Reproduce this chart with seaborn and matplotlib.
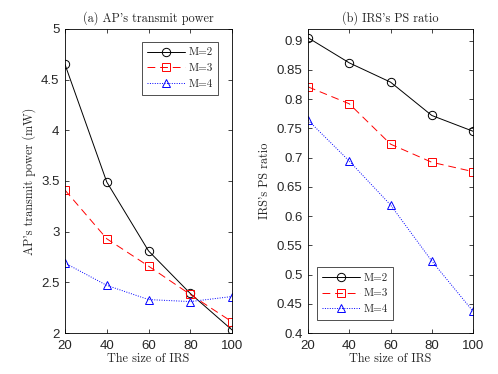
import numpy as np
import pandas as pd
import matplotlib as mpl
mpl.use("Agg")
import matplotlib.pyplot as plt
import seaborn as sns

# Data
# --------------
irs_size = [20, 40, 60, 80, 100]
labels = ["M=2", "M=3", "M=4"]

power_m2 = [4.65, 3.49, 2.81, 2.39, 2.03]
power_m3 = [3.41, 2.93, 2.66, 2.38, 2.11]
power_m4 = [2.69, 2.47, 2.33, 2.31, 2.36]

ps_m2 = [0.905, 0.862, 0.829, 0.772, 0.745]
ps_m3 = [0.821, 0.792, 0.723, 0.692, 0.676]
ps_m4 = [0.764, 0.694, 0.619, 0.523, 0.437]

# Set-up
# --------------
sns.set_theme(style="ticks")
plt.rcParams["font.family"] = ["Liberation Sans", "DejaVu Sans"]
plt.rcParams["xtick.direction"] = "in"
plt.rcParams["ytick.direction"] = "in"
plt.rcParams["axes.linewidth"] = 0.6
plt.rcParams["xtick.major.width"] = 0.6
plt.rcParams["ytick.major.width"] = 0.6
plt.rcParams["xtick.major.size"] = 3
plt.rcParams["ytick.major.size"] = 3

serif = ["cmr10", "DejaVu Serif"]
styles = [("black", "-", "o"), ("red", (0, (8, 5)), "s"), ("blue", (0, (1, 1.5)), "^")]
fs = 8.8

fig = plt.figure(figsize=(4.98, 3.74), dpi=100)
ax1 = fig.add_axes([0.1305, 0.1096, 0.3355, 0.813])
ax2 = fig.add_axes([0.6185, 0.1096, 0.3315, 0.813])


def draw(ax, series):
    for vals, lab, (c, ls, m) in zip(series, labels, styles):
        sns.lineplot(x=irs_size, y=vals, ax=ax, label=lab, color=c, linestyle=ls,
                     marker=m, markersize=6, markerfacecolor="none",
                     markeredgecolor=c, markeredgewidth=0.7, linewidth=0.7)
    ax.set_xlim(20, 100)
    ax.set_xticks(irs_size)
    ax.tick_params(labelsize=9.5, top=True, right=True)
    ax.tick_params(axis="x", pad=5)
    ax.tick_params(axis="y", pad=4)
    for s in ax.spines.values():
        s.set_visible(True)
        s.set_color("black")
    ax.set_xlabel("The size of IRS", fontsize=fs, family=serif, labelpad=1)


draw(ax1, [power_m2, power_m3, power_m4])
ax1.set_ylim(2, 5)
ax1.set_yticks([2, 2.5, 3, 3.5, 4, 4.5, 5])
ax1.set_yticklabels(["2", "2.5", "3", "3.5", "4", "4.5", "5"])
ax1.set_ylabel("AP's transmit power (mW)", fontsize=fs, family=serif, labelpad=4)
ax1.set_title("(a) AP's transmit power", fontsize=fs, family=serif, pad=5)
ax1.legend(loc="upper right", prop={"family": serif, "size": 8}, frameon=True,
           fancybox=False, edgecolor="black", handlelength=3.4, borderpad=0.5,
           labelspacing=0.55, handletextpad=0.3, bbox_to_anchor=(0.95, 0.975))

draw(ax2, [ps_m2, ps_m3, ps_m4])
ax2.set_ylim(0.4, 0.92)
yt = [0.4, 0.45, 0.5, 0.55, 0.6, 0.65, 0.7, 0.75, 0.8, 0.85, 0.9]
ax2.set_yticks(yt)
ax2.set_yticklabels([f"{v:g}" for v in yt])
ax2.set_ylabel("IRS's PS ratio", fontsize=fs, family=serif, labelpad=4)
ax2.set_title("(b) IRS's PS ratio", fontsize=fs, family=serif, pad=5)
ax2.legend(loc="lower left", prop={"family": serif, "size": 8}, frameon=True,
           fancybox=False, edgecolor="black", handlelength=3.4, borderpad=0.5,
           labelspacing=0.55, handletextpad=0.3, bbox_to_anchor=(0.02, 0.025))

for lg in [ax1.get_legend(), ax2.get_legend()]:
    lg.get_frame().set_linewidth(0.6)

# Rendering
# --------------
fig.savefig("out.png", dpi=100)
